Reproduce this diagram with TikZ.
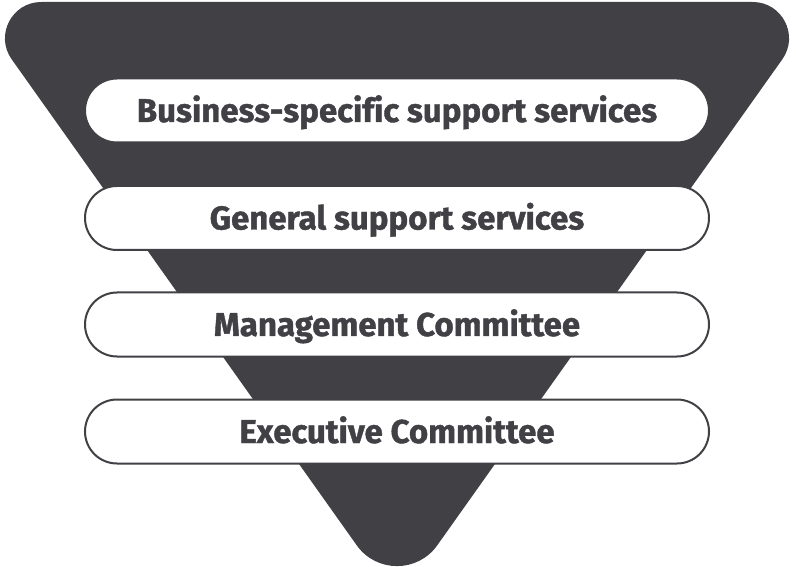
\documentclass[tikz,border=0pt]{standalone}
\usepackage{fontspec}
\newfontfamily\labfont[Ligatures=NoCommon, BoldFeatures={FakeBold=1.2}]{Fira Sans}
\usetikzlibrary{calc}
\definecolor{dk}{RGB}{64,64,69}
\tikzset{
  tri/.style={fill=dk},
  pill/.style={draw=dk, line width=2pt, fill=white, rounded corners=32pt,
    minimum width=624pt, minimum height=64pt, text=dk,
    font=\labfont\bfseries\fontsize{33}{40}\selectfont,
    text height=23pt, text depth=0pt, inner sep=0pt}
}
\begin{document}
\begin{tikzpicture}[x=1pt,y=1pt]
\useasboundingbox (0,0) rectangle (796,566);
\coordinate (TL) at (-29,564);
\coordinate (TR) at (823,564);
\coordinate (B) at (397,-36);
\fill[tri] ($(TL)!70.3pt!(TR)$) -- ($(TR)!70.3pt!(TL)$)
  .. controls ($(TR)!40.8pt!(TL)$) and ($(TR)!40.8pt!(B)$) .. ($(TR)!70.3pt!(B)$)
  -- ($(B)!69.6pt!(TR)$)
  .. controls ($(B)!35.5pt!(TR)$) and ($(B)!35.5pt!(TL)$) .. ($(B)!69.6pt!(TL)$)
  -- ($(TL)!70.3pt!(B)$)
  .. controls ($(TL)!40.8pt!(B)$) and ($(TL)!40.8pt!(TR)$) .. cycle;
\node[pill] (b1) at (397,455.5) {Business-specific support services};
\node[pill] (b2) at (397,348) {General support services};
\node[pill] (b3) at (397,241.5) {Management Committee};
\node[pill] (b4) at (397,134.5) {Executive Committee};
\end{tikzpicture}
\end{document}
